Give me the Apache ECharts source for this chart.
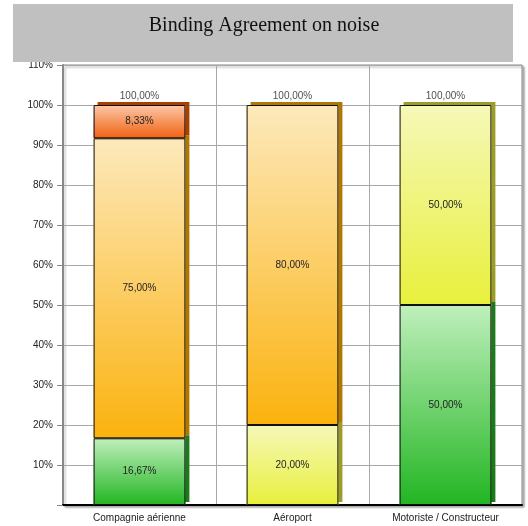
<!DOCTYPE html>
<html>
<head>
<meta charset="utf-8">
<script src="https://cdn.jsdelivr.net/npm/echarts@6/dist/echarts.min.js"></script>
<style>
  html, body { margin: 0; padding: 0; background: #fff; }
  #chart { width: 528px; height: 526px; }
</style>
</head>
<body>
<div id="chart"></div>
<script>
// Stacked shares per stakeholder group (percent)
const categories = ['Compagnie aérienne', 'Aéroport', 'Motoriste / Constructeur'];
const greenShare  = [16.67, '-', 50];
const yellowShare = ['-', 20, 50];
const orangeShare = [75, 80, '-'];
const redShare    = [8.33, '-', '-'];
const totals      = [100, 100, 100];
const yTicks = { min: 0, max: 110, interval: 10 };

const fmt = v => Number(v).toFixed(2).replace('.', ',') + '%';
const FONT = 'Liberation Sans';

function grad(top, bottom) {
  return new echarts.graphic.LinearGradient(0, 0, 0, 1, [
    { offset: 0, color: top },
    { offset: 1, color: bottom }
  ]);
}

// Filled block; a hard offset shadow gives the extruded side and top faces
function block(name, data, top, bottom, side) {
  return {
    name, type: 'bar', stack: 'fill', data,
    barWidth: '60%', barGap: '-100%',
    itemStyle: {
      color: grad(top, bottom), borderWidth: 0,
      shadowColor: side, shadowBlur: 0, shadowOffsetX: 4, shadowOffsetY: -3
    },
    emphasis: { disabled: true }, silent: true
  };
}

// Black outline drawn over the same block, carrying the value label
function outline(name, data) {
  return {
    name: name + '-outline', type: 'bar', stack: 'outline', data,
    barWidth: '60%', barGap: '-100%',
    itemStyle: { color: 'rgba(0,0,0,0)', borderColor: '#111', borderWidth: 1 },
    label: {
      show: true, position: 'inside',
      formatter: p => fmt(p.value),
      fontFamily: FONT, fontSize: 10, color: '#222'
    },
    emphasis: { disabled: true }, silent: true
  };
}

const chart = echarts.init(document.getElementById('chart'), null, { renderer: 'canvas' });
chart.setOption({
  animation: false,
  backgroundColor: '#fff',
  graphic: [
    { type: 'rect', z: 100, shape: { x: 13, y: 4, width: 500, height: 58 }, style: { fill: '#c0c0c0' } },
    { type: 'text', z: 101, left: 'center', top: 16,
      style: { text: 'Binding Agreement on noise', font: '20px "Liberation Serif"', fill: '#111' } }
  ],
  grid: {
    left: 63, right: 6, top: 65, bottom: 21,
    show: true, backgroundColor: '#fff', borderColor: '#888', borderWidth: 1,
    shadowColor: 'rgba(0,0,0,0.35)', shadowBlur: 2, shadowOffsetX: 2, shadowOffsetY: 2
  },
  xAxis: {
    type: 'category', data: categories,
    axisLine: { lineStyle: { color: '#000', width: 2 } },
    axisTick: { show: false },
    splitLine: { show: true, interval: 0, lineStyle: { color: '#a8a8a8', width: 1 } },
    axisLabel: { fontFamily: FONT, fontSize: 10, color: '#222', margin: 8, interval: 0 }
  },
  yAxis: {
    type: 'value', min: yTicks.min, max: yTicks.max, interval: yTicks.interval,
    axisLine: { show: true, lineStyle: { color: '#888', width: 2 } },
    axisTick: { show: true, length: 6, lineStyle: { color: '#888' } },
    splitLine: { lineStyle: { color: '#a8a8a8', width: 1 } },
    axisLabel: {
      fontFamily: FONT, fontSize: 10, color: '#222', margin: 10,
      formatter: v => (v === 0 ? '' : v + '%')
    }
  },
  series: [
    block('green', greenShare, '#c0f0bc', '#22b522', '#1c7a1c'),
    block('yellow', yellowShare, '#f6f8b8', '#e8f03c', '#9c9c28'),
    block('orange', orangeShare, '#fde9bc', '#fbb20e', '#b07800'),
    block('red', redShare, '#fcc8a8', '#f06010', '#a84000'),
    outline('green', greenShare),
    outline('yellow', yellowShare),
    outline('orange', orangeShare),
    outline('red', redShare),
    {
      name: 'total', type: 'scatter', data: totals,
      symbolSize: 0, silent: true,
      label: {
        show: true, position: 'top', distance: 4,
        formatter: p => fmt(p.value),
        fontFamily: FONT, fontSize: 10, color: '#222'
      }
    }
  ]
});
</script>
</body>
</html>
